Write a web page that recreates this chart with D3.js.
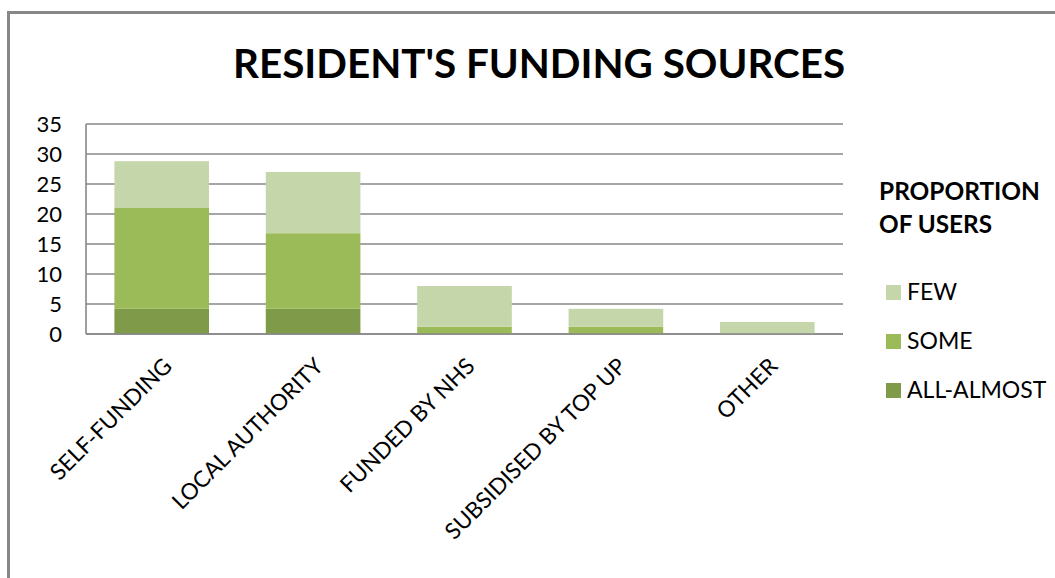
<!DOCTYPE html>
<html>
<head>
<meta charset="utf-8">
<script src="https://cdn.jsdelivr.net/npm/d3@7"></script>
<style>
  html, body { margin: 0; padding: 0; background: #fff; }
  svg { display: block; }
  text { font-family: Lato, "Open Sans", sans-serif; fill: #000; }
</style>
</head>
<body>
<svg id="chart" width="1055" height="578"></svg>
<script>
// ---- data ----
const categories = ["SELF-FUNDING", "LOCAL AUTHORITY", "FUNDED BY NHS", "SUBSIDISED BY TOP UP", "OTHER"];
const seriesNames = ["ALL-ALMOST", "SOME", "FEW"];
const allAlmost = [4.2, 4.2, 0, 0, 0];
const some = [16.8, 12.6, 1.2, 1.2, 0];
const few = [7.8, 10.2, 6.8, 3.0, 2.0];
const yTicks = [0, 5, 10, 15, 20, 25, 30, 35];
const legendOrder = ["FEW", "SOME", "ALL-ALMOST"];
const titleText = "RESIDENT'S FUNDING SOURCES";
const legendTitle = ["PROPORTION", "OF USERS"];

const colors = { "ALL-ALMOST": "#7f9a48", "SOME": "#9bbb59", "FEW": "#c5d6ab" };
const gridColor = "#878787";

const svg = d3.select("#chart");

// outer border (extends past right/bottom edges)
svg.append("rect")
  .attr("x", 8.5).attr("y", 12.5)
  .attr("width", 1100).attr("height", 700)
  .attr("fill", "none").attr("stroke", gridColor).attr("stroke-width", 3);

// helper to fit text to a width
function fit(sel, width) {
  const node = sel.node();
  const fs = parseFloat(sel.attr("font-size"));
  const w = node.getComputedTextLength();
  sel.attr("font-size", (fs * width / w).toFixed(2));
  return sel;
}

// title
fit(svg.append("text")
  .attr("x", 233).attr("y", 78)
  .attr("font-size", 40).attr("font-weight", "bold")
  .text(titleText), 612);

// plot area
const plot = { left: 86, right: 843, top: 124, bottom: 334 };

const x = d3.scaleBand()
  .domain(categories)
  .range([plot.left, plot.right])
  .paddingInner(0.375)
  .paddingOuter(0.1875);

const y = d3.scaleLinear()
  .domain([0, 35])
  .range([plot.bottom, plot.top]);

// gridlines
svg.append("g")
  .selectAll("line")
  .data(yTicks)
  .join("line")
  .attr("x1", plot.left).attr("x2", plot.right)
  .attr("y1", d => y(d)).attr("y2", d => y(d))
  .attr("stroke", gridColor).attr("stroke-width", 1.6);

// left axis line
svg.append("line")
  .attr("x1", plot.left).attr("x2", plot.left)
  .attr("y1", y(35)).attr("y2", y(0))
  .attr("stroke", gridColor).attr("stroke-width", 1.6);

// y axis labels
const yAxis = d3.axisLeft(y).tickValues(yTicks).tickSize(0).tickPadding(0);
const yg = svg.append("g").attr("transform", `translate(62,0)`).call(yAxis);
yg.select(".domain").remove();
yg.selectAll("text")
  .attr("font-size", 22)
  .attr("font-family", "Lato, sans-serif")
  .attr("fill", "#000");

// stacked data
const table = categories.map((c, i) => ({
  category: c,
  "ALL-ALMOST": allAlmost[i],
  "SOME": some[i],
  "FEW": few[i]
}));
const stack = d3.stack().keys(seriesNames)(table);

svg.append("g")
  .selectAll("g")
  .data(stack)
  .join("g")
  .attr("fill", d => colors[d.key])
  .selectAll("rect")
  .data(d => d)
  .join("rect")
  .attr("x", d => x(d.data.category))
  .attr("width", x.bandwidth())
  .attr("y", d => y(d[1]))
  .attr("height", d => y(d[0]) - y(d[1]));

// redraw bottom axis line over bars
svg.append("line")
  .attr("x1", plot.left).attr("x2", plot.right)
  .attr("y1", y(0)).attr("y2", y(0))
  .attr("stroke", gridColor).attr("stroke-width", 1.6);

// x axis labels rotated
const xAxis = d3.axisBottom(x).tickSize(0).tickPadding(0);
const xg = svg.append("g").call(xAxis);
xg.select(".domain").remove();
xg.selectAll(".tick").attr("transform", d => `translate(${x(d) + x.bandwidth() / 2 + 6},${plot.bottom + 28})`);
xg.selectAll("text")
  .attr("font-size", 22.5)
  .attr("font-family", "Lato, sans-serif")
  .attr("fill", "#000")
  .attr("text-anchor", "end")
  .attr("x", 0).attr("y", 0).attr("dy", "0.35em")
  .attr("transform", "rotate(-45)");

// legend title
fit(svg.append("text").attr("x", 879).attr("y", 200)
  .attr("font-size", 24).attr("font-weight", "bold").text(legendTitle[0]), 161);
fit(svg.append("text").attr("x", 879).attr("y", 233)
  .attr("font-size", 24).attr("font-weight", "bold").text(legendTitle[1]), 113);

// legend items
const legendY = { "FEW": 285, "SOME": 334, "ALL-ALMOST": 383 };
const leg = svg.append("g").selectAll("g").data(legendOrder).join("g");
leg.append("rect")
  .attr("x", 886).attr("y", d => legendY[d])
  .attr("width", 15).attr("height", 15)
  .attr("fill", d => colors[d]);
leg.append("text")
  .attr("x", 907).attr("y", d => legendY[d] + 15)
  .attr("font-size", 23)
  .text(d => d);
</script>
</body>
</html>
